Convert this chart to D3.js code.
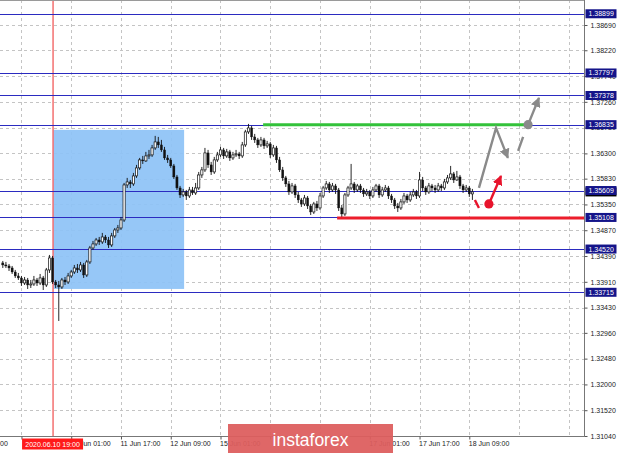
<!DOCTYPE html>
<html><head><meta charset="utf-8">
<script src="https://cdn.jsdelivr.net/npm/d3@7"></script>
<style>
html,body{margin:0;padding:0;background:#fff;overflow:hidden}
svg{display:block}
text{font-family:"Liberation Sans",Arial,sans-serif}
</style></head><body>
<svg id="chart" width="620" height="453"></svg>
<script>
// GBP-style hourly bars, 10 Jun 03:00 .. 18 Jun 14:00: [open, high, low, close]
const bars = [
[1.34261,1.34298,1.34168,1.34224],[1.34224,1.34280,1.34168,1.34205],[1.34205,1.34242,1.34112,1.34168],[1.34168,1.34205,1.34056,1.34093],
[1.34093,1.34131,1.33982,1.34019],[1.34019,1.34075,1.33944,1.33982],[1.33982,1.34019,1.33833,1.33888],[1.33888,1.34000,1.33851,1.33944],
[1.33944,1.33982,1.33777,1.33851],[1.33851,1.33944,1.33795,1.33870],[1.33870,1.34019,1.33833,1.33944],[1.33944,1.33982,1.33833,1.33888],
[1.33888,1.34056,1.33851,1.33982],[1.33982,1.34019,1.33758,1.33851],[1.33851,1.34168,1.33814,1.34131],[1.34131,1.34410,1.34075,1.34354],
[1.34354,1.34391,1.33870,1.33907],[1.33907,1.33944,1.33795,1.33851],[1.33851,1.33926,1.33181,1.33814],[1.33814,1.33982,1.33777,1.33944],
[1.33944,1.34000,1.33851,1.33907],[1.33907,1.34075,1.33870,1.34019],[1.34019,1.34131,1.33982,1.34093],[1.34093,1.34224,1.34056,1.34168],
[1.34168,1.34242,1.34075,1.34131],[1.34131,1.34280,1.34093,1.34224],[1.34224,1.34261,1.33982,1.34037],[1.34037,1.34317,1.34000,1.34280],
[1.34280,1.34578,1.34242,1.34540],[1.34540,1.34671,1.34503,1.34615],[1.34615,1.34726,1.34578,1.34689],[1.34689,1.34745,1.34596,1.34652],
[1.34652,1.34820,1.34615,1.34745],[1.34745,1.34782,1.34633,1.34689],[1.34689,1.34745,1.34540,1.34596],[1.34596,1.34820,1.34559,1.34764],
[1.34764,1.34912,1.34726,1.34875],[1.34875,1.34968,1.34820,1.34912],[1.34912,1.35117,1.34875,1.35061],[1.35061,1.35750,1.35024,1.35713],
[1.35713,1.35844,1.35657,1.35769],[1.35769,1.35806,1.35657,1.35732],[1.35732,1.35937,1.35695,1.35881],[1.35881,1.36086,1.35844,1.36030],
[1.36030,1.36216,1.35993,1.36179],[1.36179,1.36253,1.36104,1.36160],[1.36160,1.36328,1.36142,1.36253],[1.36253,1.36365,1.36197,1.36272],
[1.36272,1.36458,1.36235,1.36402],[1.36402,1.36626,1.36365,1.36514],[1.36514,1.36607,1.36402,1.36458],[1.36458,1.36551,1.36328,1.36365],
[1.36365,1.36421,1.36179,1.36216],[1.36216,1.36272,1.36123,1.36179],[1.36179,1.36216,1.36030,1.36067],[1.36067,1.36104,1.35825,1.35862],
[1.35862,1.35899,1.35620,1.35657],[1.35657,1.35695,1.35471,1.35527],[1.35527,1.35639,1.35490,1.35583],[1.35583,1.35620,1.35434,1.35508],
[1.35508,1.35676,1.35471,1.35620],[1.35620,1.35676,1.35527,1.35564],[1.35564,1.35750,1.35527,1.35657],[1.35657,1.35955,1.35620,1.35899],
[1.35899,1.36048,1.35844,1.35993],[1.35993,1.36402,1.35955,1.36309],[1.36309,1.36365,1.36030,1.36086],[1.36086,1.36142,1.35899,1.35955],
[1.35955,1.36235,1.35918,1.36179],[1.36179,1.36328,1.36142,1.36272],[1.36272,1.36421,1.36235,1.36365],[1.36365,1.36402,1.36197,1.36253],
[1.36253,1.36384,1.36216,1.36328],[1.36328,1.36365,1.36160,1.36216],[1.36216,1.36328,1.36179,1.36272],[1.36272,1.36365,1.36235,1.36291],
[1.36291,1.36328,1.36197,1.36253],[1.36253,1.36514,1.36216,1.36458],[1.36458,1.36738,1.36421,1.36700],[1.36700,1.36849,1.36663,1.36775],
[1.36775,1.36812,1.36551,1.36607],[1.36607,1.36663,1.36495,1.36551],[1.36551,1.36589,1.36402,1.36458],[1.36458,1.36607,1.36421,1.36551],
[1.36551,1.36589,1.36384,1.36440],[1.36440,1.36533,1.36402,1.36477],[1.36477,1.36514,1.36216,1.36272],[1.36272,1.36458,1.36235,1.36402],
[1.36402,1.36440,1.36123,1.36179],[1.36179,1.36235,1.35955,1.35993],[1.35993,1.36048,1.35788,1.35844],[1.35844,1.35881,1.35676,1.35732],
[1.35732,1.35788,1.35527,1.35583],[1.35583,1.35750,1.35546,1.35695],[1.35695,1.35732,1.35471,1.35527],[1.35527,1.35583,1.35378,1.35434],
[1.35434,1.35471,1.35303,1.35359],[1.35359,1.35527,1.35322,1.35471],[1.35471,1.35508,1.35266,1.35322],[1.35322,1.35359,1.35154,1.35210],
[1.35210,1.35397,1.35173,1.35359],[1.35359,1.35415,1.35229,1.35285],[1.35285,1.35564,1.35248,1.35508],[1.35508,1.35695,1.35471,1.35657],
[1.35657,1.35788,1.35620,1.35732],[1.35732,1.35769,1.35564,1.35620],[1.35620,1.35750,1.35583,1.35695],[1.35695,1.35732,1.35546,1.35620],
[1.35620,1.35657,1.35229,1.35285],[1.35285,1.35341,1.35099,1.35173],[1.35173,1.35564,1.35136,1.35527],[1.35527,1.35695,1.35490,1.35657],
[1.35657,1.36104,1.35620,1.35732],[1.35732,1.35769,1.35564,1.35620],[1.35620,1.35732,1.35583,1.35695],[1.35695,1.35732,1.35564,1.35620],
[1.35620,1.35657,1.35490,1.35546],[1.35546,1.35639,1.35508,1.35583],[1.35583,1.35620,1.35452,1.35508],[1.35508,1.35676,1.35471,1.35620],
[1.35620,1.35732,1.35583,1.35695],[1.35695,1.35732,1.35471,1.35527],[1.35527,1.35676,1.35490,1.35620],[1.35620,1.35713,1.35583,1.35657],
[1.35657,1.35695,1.35452,1.35508],[1.35508,1.35546,1.35378,1.35434],[1.35434,1.35471,1.35266,1.35322],[1.35322,1.35378,1.35210,1.35285],
[1.35285,1.35452,1.35248,1.35397],[1.35397,1.35564,1.35359,1.35508],[1.35508,1.35546,1.35378,1.35434],[1.35434,1.35583,1.35397,1.35527],
[1.35527,1.35639,1.35490,1.35583],[1.35583,1.35620,1.35452,1.35508],[1.35508,1.35955,1.35471,1.35806],[1.35806,1.35862,1.35601,1.35657],
[1.35657,1.35695,1.35527,1.35583],[1.35583,1.35750,1.35546,1.35695],[1.35695,1.35732,1.35601,1.35657],[1.35657,1.35713,1.35564,1.35620],
[1.35620,1.35750,1.35583,1.35695],[1.35695,1.35732,1.35601,1.35657],[1.35657,1.35825,1.35620,1.35769],[1.35769,1.35899,1.35732,1.35844],
[1.35844,1.36067,1.35806,1.35918],[1.35918,1.35955,1.35750,1.35806],[1.35806,1.35974,1.35788,1.35862],[1.35862,1.35899,1.35639,1.35695],
[1.35695,1.35732,1.35564,1.35620],[1.35620,1.35713,1.35583,1.35657],[1.35657,1.35695,1.35490,1.35546],[1.35546,1.35639,1.35434,1.35583]
];

// Price scale ticks and horizontal levels
const priceTicks = [1.38690,1.38220,1.37740,1.37260,1.36780,1.36300,1.35830,1.35350,1.34870,1.34390,1.33910,1.33430,1.32960,1.32480,1.32000,1.31520,1.31040];
const levels = [1.38899,1.37797,1.37378,1.36835,1.35609,1.35108,1.34520,1.33715];

// Time axis: bar index of each tick and its label ("" where the label sits under a tag or badge)
const timeTickBars = [-10,6,22,38,54,70,86,102,118,134,150];
const timeTickLabels = ["9 Jun 17:00","","11 Jun 01:00","11 Jun 17:00","12 Jun 09:00","15 Jun 01:00","","","17 Jun 01:00","17 Jun 17:00","18 Jun 09:00"];
const gridBars = [6,22,38,54,70,86,102,118,134,150,166,182];

// Highlighted event and range box
const markerBar = 16, markerLabel = "2020.06.10 19:00";
const zoneBars = [16.1, 58.3], zonePrices = [1.36738, 1.33777];

// Scenario lines: resistance (green) and support (red)
const resistance = {price: 1.36835, from: 83.7, to: 168.9};
const support = {price: 1.35108, from: 107.5};

// Scenario paths [bar, price]
const grayPath = [[153.1,1.35657],[158.6,1.36775],[162.4,1.36216]];
const grayDash = [[165.7,1.36346],[167.3,1.36607]];
const grayDot = [168.9,1.36835];
const grayArrow = [[168.9,1.36835],[172.4,1.37334]];
const redDash = [[151.8,1.35434],[153.1,1.35285]];
const redDot = [156.3,1.35359];
const redArrow = [[156.3,1.35359],[160.2,1.35881]];

const plotR = 584.5, plotB = 436.5;
const svg = d3.select("#chart");

const x = d3.scaleLinear().domain([0, 151]).range([2.8, 2.8 + 151 * 3.11]);
const y = d3.scaleLinear().domain([1.3104, 1.3869]).range([436, 25]);

const defs = svg.append("defs");
defs.append("clipPath").attr("id","plot").append("rect").attr("x",0).attr("y",0).attr("width",plotR).attr("height",plotB);
function marker(id, color){
  defs.append("marker").attr("id", id).attr("viewBox","0 0 10 10")
    .attr("refX", 9).attr("refY", 5).attr("markerWidth", 10).attr("markerHeight", 10)
    .attr("markerUnits","userSpaceOnUse").attr("orient","auto")
    .append("path").attr("d","M0,0 L10,5 L0,10 Z").attr("fill", color);
}
marker("ahGray", "#8a8a8a");
marker("ahRed", "#e8142c");

const plot = svg.append("g").attr("clip-path","url(#plot)");

// grid
const grid = plot.append("g").attr("stroke","#c4c4c4").attr("stroke-dasharray","3,3").attr("shape-rendering","crispEdges");
grid.selectAll("line.h").data(priceTicks.slice(0,-1)).join("line").attr("class","h")
  .attr("x1",0).attr("x2",plotR).attr("y1",d=>Math.round(y(d))+0.5).attr("y2",d=>Math.round(y(d))+0.5);
grid.selectAll("line.v").data(gridBars).join("line").attr("class","v")
  .attr("y1",0).attr("y2",plotB).attr("x1",d=>Math.round(x(d))+0.5).attr("x2",d=>Math.round(x(d))+0.5);

// range box
plot.append("rect")
  .attr("x", x(zoneBars[0])).attr("width", x(zoneBars[1]) - x(zoneBars[0]))
  .attr("y", y(zonePrices[0])).attr("height", y(zonePrices[1]) - y(zonePrices[0]))
  .attr("fill","#8ec3f6").attr("opacity",0.93);

// event line
plot.append("line").attr("x1",x(markerBar)+0.5).attr("x2",x(markerBar)+0.5).attr("y1",0).attr("y2",plotB)
  .attr("stroke","#f37070").attr("stroke-width",1.5);

// horizontal levels
plot.selectAll("line.lvl").data(levels).join("line").attr("class","lvl")
  .attr("x1",0).attr("x2",plotR).attr("y1",d=>Math.round(y(d))+0.5).attr("y2",d=>Math.round(y(d))+0.5)
  .attr("stroke","#2b2bc0").attr("stroke-width",1).attr("shape-rendering","crispEdges");

// candles
const candles = plot.append("g");
bars.forEach((b, i) => {
  const [o, h, l, c] = b, xc = x(i);
  candles.append("line").attr("x1",xc).attr("x2",xc).attr("y1",y(h)).attr("y2",y(l))
    .attr("stroke","#111").attr("stroke-width",0.9);
  const top = y(Math.max(o, c)), bot = y(Math.min(o, c));
  const bull = c >= o;
  candles.append("rect").attr("x",xc-1.1).attr("width",2.2)
    .attr("y",top).attr("height",Math.max(0.8, bot-top))
    .attr("fill", bull ? "#fff" : "#111").attr("stroke","#111").attr("stroke-width", bull ? 0.7 : 0.3);
});

// resistance / support segments
plot.append("line").attr("x1",x(resistance.from)).attr("x2",x(resistance.to))
  .attr("y1",y(resistance.price)).attr("y2",y(resistance.price))
  .attr("stroke","#33c23a").attr("stroke-width",3);
plot.append("line").attr("x1",x(support.from)).attr("x2",plotR)
  .attr("y1",y(support.price)+0.5).attr("y2",y(support.price)+0.5)
  .attr("stroke","#ec1d2b").attr("stroke-width",3);

// scenario drawings
const line = d3.line().x(d=>x(d[0])).y(d=>y(d[1]));
plot.append("path").attr("d", line(grayPath)).attr("fill","none").attr("stroke","#8a8a8a")
  .attr("stroke-width",2.4).attr("stroke-linejoin","miter").attr("marker-end","url(#ahGray)");
plot.append("path").attr("d", line(grayDash)).attr("fill","none").attr("stroke","#8a8a8a").attr("stroke-width",2.4);
plot.append("path").attr("d", line(grayArrow)).attr("fill","none").attr("stroke","#8a8a8a")
  .attr("stroke-width",2.4).attr("marker-end","url(#ahGray)");
plot.append("circle").attr("cx",x(grayDot[0])).attr("cy",y(grayDot[1])).attr("r",4.6).attr("fill","#8a8a8a");
plot.append("path").attr("d", line(redDash)).attr("fill","none").attr("stroke","#e8142c").attr("stroke-width",2.4);
plot.append("path").attr("d", line(redArrow)).attr("fill","none").attr("stroke","#e8142c")
  .attr("stroke-width",2.4).attr("marker-end","url(#ahRed)");
plot.append("circle").attr("cx",x(redDot[0])).attr("cy",y(redDot[1])).attr("r",4.6).attr("fill","#e8142c");

// frame
svg.append("line").attr("x1",0).attr("x2",plotR).attr("y1",0.5).attr("y2",0.5).attr("stroke","#9a9a9a");
svg.append("line").attr("x1",plotR).attr("x2",plotR).attr("y1",0).attr("y2",plotB).attr("stroke","#777");
svg.append("line").attr("x1",0).attr("x2",plotR).attr("y1",plotB).attr("y2",plotB).attr("stroke","#777");

// price axis
const yAxis = svg.append("g").attr("transform",`translate(${plotR},0)`)
  .call(d3.axisRight(y).tickValues(priceTicks).tickFormat(d3.format(".5f")).tickSize(3).tickPadding(3));
yAxis.select(".domain").remove();
yAxis.selectAll(".tick line").attr("stroke","#555");
yAxis.selectAll(".tick text").attr("font-size",7).attr("fill","#222").attr("font-family","Liberation Sans, Arial, sans-serif");

// time axis
const xAxis = svg.append("g").attr("transform",`translate(0,${plotB})`)
  .call(d3.axisBottom(x).tickValues(timeTickBars).tickFormat((d,i)=>timeTickLabels[i]).tickSize(3).tickPadding(2));
xAxis.select(".domain").remove();
xAxis.selectAll(".tick line").attr("stroke","#555");
xAxis.selectAll(".tick text").attr("font-size",7).attr("fill","#222").attr("text-anchor","start")
  .attr("dx",-1).attr("font-family","Liberation Sans, Arial, sans-serif");

// current price tag
const last = bars[bars.length-1][3];
const tags = svg.append("g");
tags.append("rect").attr("x",plotR+1).attr("y",y(last)-4.5).attr("width",31).attr("height",9).attr("fill","#000");
tags.append("text").attr("x",plotR+4).attr("y",y(last)+2.5).attr("font-size",7).attr("fill","#fff").text(d3.format(".5f")(last));

// level price tags
const lt = tags.selectAll("g.lt").data(levels).join("g").attr("class","lt");
lt.append("rect").attr("x",plotR+1).attr("y",d=>y(d)-4.5).attr("width",31).attr("height",9).attr("fill","#14148a");
lt.append("text").attr("x",plotR+4).attr("y",d=>y(d)+2.5).attr("font-size",7).attr("fill","#fff").text(d=>d3.format(".5f")(d));

// event time tag
svg.append("rect").attr("x",x(markerBar)-30.5).attr("y",plotB+2).attr("width",61).attr("height",11).attr("fill","#ff1a1a");
svg.append("text").attr("x",x(markerBar)).attr("y",plotB+10.5).attr("text-anchor","middle")
  .attr("font-size",7).attr("fill","#fff").text(markerLabel);

// brand badge
svg.append("rect").attr("x",228).attr("y",424).attr("width",165).attr("height",29).attr("fill","#dd5e5e").attr("opacity",0.94);
svg.append("text").attr("x",310.5).attr("y",446).attr("text-anchor","middle")
  .attr("font-family","'Open Sans', sans-serif").attr("font-size",17.5).attr("fill","#fff").text("instaforex");
</script>
</body></html>
